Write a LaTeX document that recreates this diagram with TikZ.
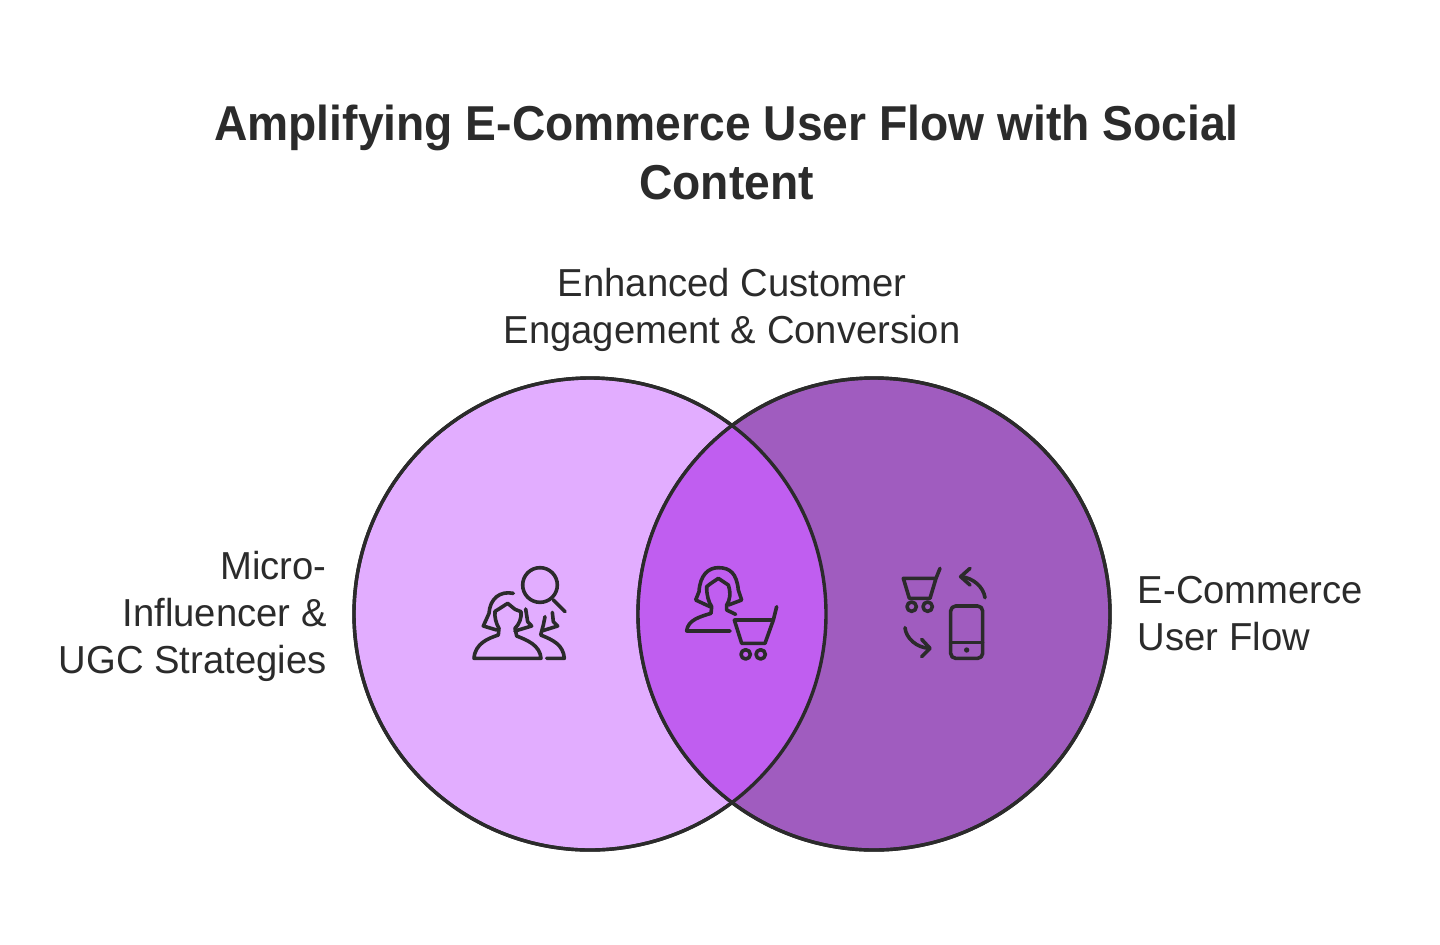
\documentclass[tikz,border=0pt]{standalone}
\usepackage{fontspec}
\setmainfont{Liberation Sans}
\newfontfamily\titlefont[FakeStretch=0.943]{Liberation Sans}
\newfontfamily\labelfont[FakeStretch=0.98]{Liberation Sans}
\usepackage{xcolor}
\definecolor{lightviolet}{HTML}{E2ADFF}
\definecolor{midviolet}{HTML}{C05EF0}
\definecolor{darkviolet}{HTML}{A05CBF}
\definecolor{inkgray}{HTML}{2B2B2B}
\begin{document}
\begin{tikzpicture}
		[
		x=0.5pt,y=-0.5pt,
		every node/.style={text=inkgray, inner sep=0pt},
		titletext/.style={font=\fontsize{24.5}{29.5}\selectfont\titlefont\bfseries, align=center},
		labeltext/.style={font=\fontsize{19.5}{23.5}\selectfont\labelfont},
		venn/.style={circle, draw=inkgray, line width=1.7pt, minimum size=236pt},
		icon/.style={draw=inkgray, line width=1.8pt, line cap=round, line join=round}
		]
		\useasboundingbox (0,0) rectangle (1440,944);
		\fill[white] (0,0) rectangle (1440,944);
		\node[titletext] (title) at (726.5,152) {Amplifying E-Commerce User Flow with Social\\Content};
		\node[labeltext, align=center] (enhanced) at (732,310) {Enhanced Customer\\Engagement \& Conversion};
		\node[labeltext, align=right, anchor=east] (micro) at (327,616) {Micro-\\Influencer \&\\UGC Strategies};
		\node[labeltext, align=left, anchor=west] (ecommerce) at (1137.5,614) {E-Commerce\\User Flow};
		\node[venn, fill=lightviolet] (left) at (590,614) {};
		\node[venn, fill=darkviolet] (right) at (874,614) {};
		\begin{scope}
			\clip (590,614) circle [radius=236];
			\fill[midviolet] (874,614) circle [radius=236];
		\end{scope}
		\draw[inkgray, line width=1.7pt] (590,614) circle [radius=236];
		\draw[inkgray, line width=1.7pt] (874,614) circle [radius=236];
		\begin{scope}[shift={(460,550)}, scale=1/3]
			\path[icon] (240,105) circle [radius=52];
			\path[icon] (280,150) -- (315,185);
			\path[icon] (143,160) -- (115,178) -- (105,184) .. controls (103,200) and (108,220) .. (117,235) -- (115,255)
				.. controls (85,265) and (45,280) .. (42,325) -- (243,325)
				.. controls (240,285) and (200,270) .. (170,258) -- (165,235)
				.. controls (178,222) and (185,205) .. (183,185) -- (165,178) -- cycle;
			\path[icon] (160,130) .. controls (120,122) and (90,145) .. (87,190) -- (70,228) -- (110,240);
			\path[icon] (197,177) -- (203,215) -- (215,228) -- (165,243);
			\path[icon] (255,200) -- (250,225) -- (242,255) .. controls (280,270) and (310,285) .. (313,325) -- (260,325);
			\path[icon] (277,187) -- (280,215) -- (293,228) -- (245,243);
		\end{scope}
		\begin{scope}[shift={(675,555)}, scale=1/3]
			\path[icon] (130,70) -- (105,87) -- (95,95) .. controls (95,120) and (100,140) .. (110,155) -- (108,175)
				.. controls (75,185) and (38,195) .. (35,228) -- (165,228);
			\path[icon] (130,70) -- (160,90) .. controls (168,115) and (165,135) .. (155,150) -- (155,165) -- (182,178);
			\path[icon] (105,155) -- (62,135) -- (72,110) .. controls (75,60) and (100,38) .. (130,38)
				.. controls (165,38) and (185,55) .. (190,105) -- (200,135) -- (160,150);
			\path[icon] (305,155) -- (295,195) -- (178,195) -- (200,265) -- (270,265) -- (295,195);
			\path[icon] (212,298) circle [radius=14];
			\path[icon] (257,298) circle [radius=14];
		\end{scope}
		\begin{scope}[shift={(890,555)}, scale=1/3]
			\path[icon] (150,40) -- (138,70) -- (40,70) -- (58,130) -- (120,130) -- (138,70);
			\path[icon] (65,155) circle [radius=14];
			\path[icon] (113,155) circle [radius=14];
			\path[icon, rounded corners=2.5pt] (182,153) rectangle (278,310);
			\path[icon] (182,262) -- (278,262);
			\fill[inkgray] (230,285) circle [radius=8];
			\path[icon] (285,128) .. controls (280,95) and (250,70) .. (215,65);
			\path[icon] (240,40) -- (212,65) -- (240,90);
			\path[icon] (45,218) .. controls (48,250) and (80,278) .. (118,280);
			\path[icon] (95,253) -- (120,280) -- (95,305);
		\end{scope}
\end{tikzpicture}
\end{document}
